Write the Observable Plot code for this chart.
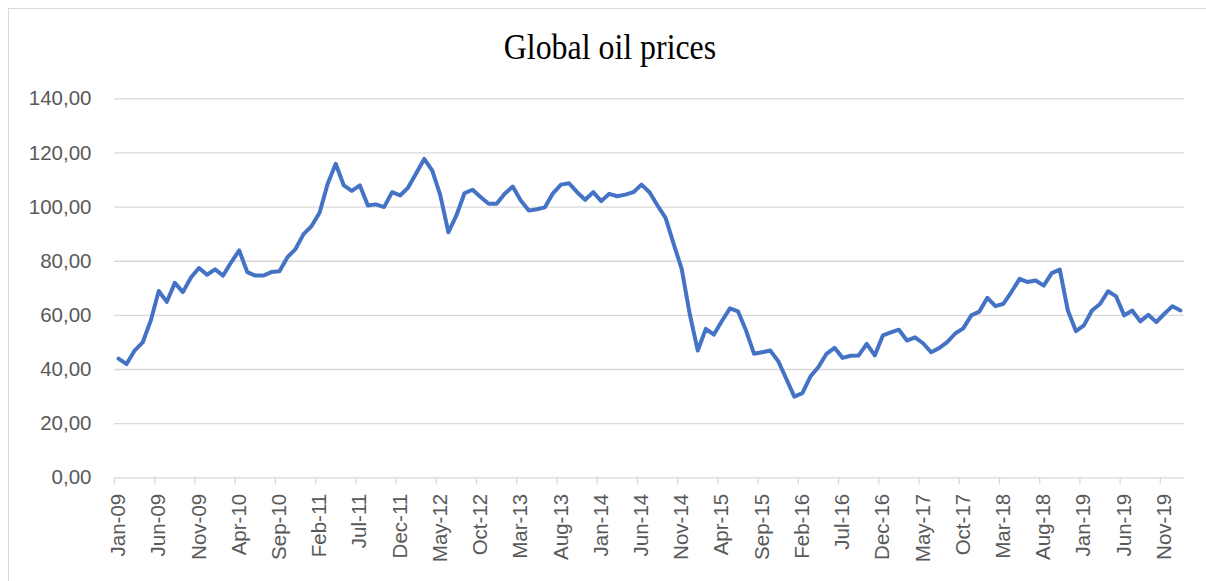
<!DOCTYPE html>
<html>
<head>
<meta charset="utf-8">
<script src="https://cdn.jsdelivr.net/npm/d3@7"></script>
<script src="https://cdn.jsdelivr.net/npm/@observablehq/plot@0.6"></script>
<style>
  body { margin: 0; background: #fff; }
  #wrap { position: relative; width: 1206px; height: 581px; overflow: hidden; background: #fff; }
  #frame { position: absolute; left: 8px; top: 8px; width: 1220px; height: 600px; border: 1px solid #d9d9d9; box-sizing: border-box; }
  #chart { position: absolute; left: 0; top: 0; }
  #title { position: absolute; left: 310px; width: 600px; top: 29px; text-align: center;
           font-family: "Liberation Serif", "Times New Roman", serif; font-size: 36px; line-height: 36px;
           color: #000; transform: scaleX(0.885); white-space: nowrap; }
</style>
</head>
<body>
<div id="wrap">
  <div id="frame"></div>
  <div id="chart"></div>
  <div id="title">Global oil prices</div>
</div>
<script>
// Monthly series, Jan-09 .. Jan-20
const startYear = 2009;
const startMonthIndex = 0; // January
const prices = [
  44, 42, 47, 50, 58, 69, 65, 72, 68.6, 74, 77.5, 75,
  77, 74.7, 79.6, 84, 76, 74.7, 74.7, 76, 76.3, 81.5, 84.5, 90,
  93, 98, 108.6, 116, 108, 106, 108, 100.6, 101, 100, 105.5, 104.3,
  107.2, 112.5, 117.8, 113.5, 104.3, 90.7, 96.9, 105.1, 106.4, 103.7, 101.2, 101.2,
  104.9, 107.6, 102.4, 98.7, 99.2, 99.9, 105.1, 108.3, 108.8, 105.5, 102.7, 105.5,
  102.2, 104.9, 104.0, 104.6, 105.5, 108.3, 105.5, 100.6, 96.0, 86.4, 77.2, 60.5,
  47.0, 55.0, 52.9, 57.9, 62.6, 61.5, 54.4, 45.8, 46.4, 47.0, 43.1, 36.6,
  30.0, 31.3, 37.4, 40.9, 45.8, 48.0, 44.3, 45.1, 45.2, 49.5, 45.2, 52.6,
  53.7, 54.7, 50.7, 51.9, 49.7, 46.4, 47.9, 50.1, 53.3, 55.2, 60.0, 61.4,
  66.5, 63.4, 64.3, 68.7, 73.5, 72.3, 72.9, 71.0, 75.6, 76.9, 61.8, 54.2,
  56.3, 61.8, 64.2, 68.9, 67.0, 60.0, 61.8, 57.8, 60.2, 57.5, 60.6, 63.4,
  61.8
];
const tickLabels = [
  "Jan-09", "Jun-09", "Nov-09", "Apr-10", "Sep-10", "Feb-11", "Jul-11", "Dec-11",
  "May-12", "Oct-12", "Mar-13", "Aug-13", "Jan-14", "Jun-14", "Nov-14", "Apr-15",
  "Sep-15", "Feb-16", "Jul-16", "Dec-16", "May-17", "Oct-17", "Mar-18", "Aug-18",
  "Jan-19", "Jun-19", "Nov-19"
];
const yTicks = [0, 20, 40, 60, 80, 100, 120, 140];
const labelStep = 5;

const fmtMonth = d3.utcFormat("%b-%y");
const data = prices.map((v, i) => ({
  i,
  month: fmtMonth(new Date(Date.UTC(startYear, startMonthIndex + i, 1))),
  v
}));
const n = data.length;
const tickBoundaries = tickLabels.map((_, k) => k * labelStep);
const tickCenters = tickLabels.map((_, k) => k * labelStep + 0.5);
const fmtY = d => d3.format(".2f")(d).replace(".", ",");

const grid = "#d9d9d9";
const chart = Plot.plot({
  width: 1206,
  height: 581,
  marginLeft: 114,
  marginRight: 22,
  marginTop: 98.3,
  marginBottom: 103.7,
  style: { fontFamily: "'Liberation Sans', Arial, sans-serif", fontSize: "20.5px", color: "#595959", background: "transparent" },
  x: { domain: [0, n], axis: null, label: null },
  y: { domain: [0, 140], axis: null, label: null },
  marks: [
    Plot.ruleY(yTicks, { stroke: grid, strokeWidth: 1.3 }),
    Plot.axisY(yTicks, { tickSize: 0, tickPadding: 23, tickFormat: fmtY, fill: "#595959", label: null }),
    Plot.axisX(tickBoundaries, { tickSize: 7, tickFormat: () => "", stroke: grid, strokeWidth: 1.3, label: null }),
    Plot.axisX(tickCenters, {
      tickSize: 0, tickPadding: 16, tickRotate: -90,
      tickFormat: d => tickLabels[Math.round((d - 0.5) / labelStep)],
      fill: "#595959", label: null
    }),
    Plot.line(data, {
      x: d => d.i + 0.5, y: "v",
      stroke: "#4472C4", strokeWidth: 4,
      strokeLinejoin: "round", strokeLinecap: "round"
    })
  ]
});
document.getElementById("chart").appendChild(chart);
</script>
</body>
</html>
